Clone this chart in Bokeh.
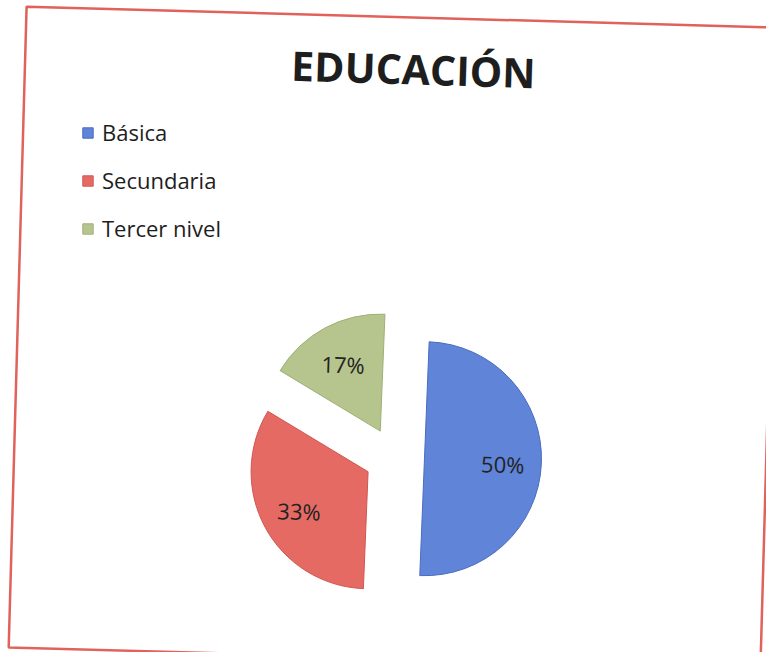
import numpy as np
from bokeh.plotting import figure
from bokeh.models import ColumnDataSource, Legend, LegendItem
from bokeh.core.properties import value
from bokeh.embed import file_html
from bokeh.resources import INLINE

# ---- data ----
categories = ["Básica", "Secundaria", "Tercer nivel"]
values = [50, 33, 17]
pct_labels = ["50%", "33%", "17%"]
colors = ["#5f84d8", "#e66a64", "#b5c58d"]
edge_colors = ["#4a6cc0", "#cf5752", "#a0b078"]
title_text = "EDUCACIÓN"

# ---- layout ----
W, H = 766, 652
p = figure(width=W, height=H, x_range=(0, W), y_range=(0, H),
           output_backend="svg", toolbar_location=None, min_border=0)
p.axis.visible = False
p.grid.visible = False
p.outline_line_color = None
p.background_fill_color = "white"
p.border_fill_color = "white"

# frame (scanned page slightly rotated)
frame_rot = np.deg2rad(-1.6)
p.rect(x=[393], y=[315], width=[752], height=[641], angle=frame_rot,
       fill_color=None, line_color="#e0625a", line_width=2.5)

# pie geometry
rot = np.deg2rad(2.3)
cx, cy, r, d = 394, 195, 117, 30
total = float(sum(values))
cum = np.cumsum([0] + values) / total * 2 * np.pi  # clockwise from 12 o'clock
c0, c1 = cum[:-1], cum[1:]
start = np.pi / 2 - c1 - rot
end = np.pi / 2 - c0 - rot
mid = (start + end) / 2
xs = cx + d * np.cos(mid)
ys = cy + d * np.sin(mid)
lx = xs + 0.67 * r * np.cos(mid)
ly = ys + 0.67 * r * np.sin(mid) - 2

src = ColumnDataSource(dict(cat=categories, val=values, lab=pct_labels,
                            color=colors, edge=edge_colors,
                            start=start, end=end, x=xs, y=ys, lx=lx, ly=ly))

wr = p.wedge(x="x", y="y", radius=r, start_angle="start", end_angle="end",
             fill_color="color", line_color="edge", line_width=1, source=src)

p.text(x="lx", y="ly", text="lab", source=src, angle=np.deg2rad(-1.8),
       text_align="center", text_baseline="middle",
       text_font=value("Open Sans"), text_font_size="22px", text_color="#222222")

# title
p.text(x=[413], y=[584], text=[title_text], angle=np.deg2rad(-1.8),
       text_align="center", text_baseline="alphabetic",
       text_font=value("Open Sans"), text_font_style="bold",
       text_font_size="41px", text_color="#1e1e1e")

legend = Legend(items=[LegendItem(label=c, renderers=[wr], index=i)
                       for i, c in enumerate(categories)],
                location=(81, 409), orientation="vertical",
                glyph_width=13, glyph_height=13, label_height=30, spacing=18,
                label_standoff=8, padding=0, margin=0,
                border_line_color=None, background_fill_alpha=0,
                label_text_font="Open Sans", label_text_font_size="22px",
                label_text_color="#1e1e1e")
p.add_layout(legend)

open("out.html", "w").write(file_html(p, INLINE))
